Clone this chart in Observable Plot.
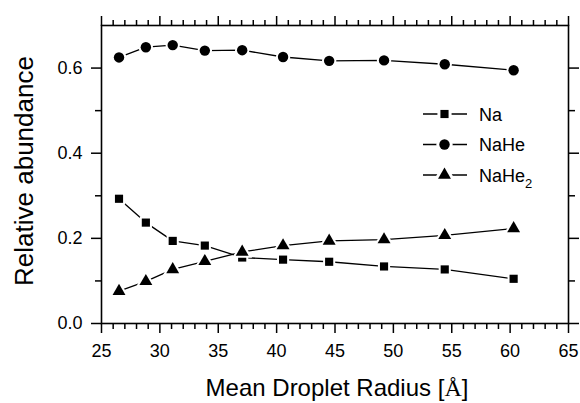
<!DOCTYPE html>
<html><head><meta charset="utf-8">
<script src="https://cdn.jsdelivr.net/npm/d3@7"></script>
<script src="https://cdn.jsdelivr.net/npm/@observablehq/plot@0.6"></script>
<style>
body{margin:0;background:white}
#chart{position:relative;width:580px;height:403px}
</style>
</head><body><div id="chart"></div>
<script>
const radius = [26.5, 28.8, 31.1, 33.85, 37.05, 40.55, 44.5, 49.2, 54.4, 60.3];
const na     = [0.293, 0.237, 0.194, 0.183, 0.155, 0.150, 0.145, 0.134, 0.127, 0.105];
const naHe   = [0.625, 0.649, 0.654, 0.641, 0.642, 0.626, 0.617, 0.618, 0.609, 0.595];
const naHe2  = [0.076, 0.099, 0.127, 0.146, 0.168, 0.183, 0.194, 0.197, 0.207, 0.223];
const seriesNames = ["Na", "NaHe", "NaHe2"];
const xTicks = [25, 30, 35, 40, 45, 50, 55, 60, 65];
const xMinor = d3.range(25, 66, 1).filter(d => d % 5 !== 0);
const yTicks = [0, 0.2, 0.4, 0.6];
const yMinor = [0.1, 0.3, 0.5];
const xLabel = "Mean Droplet Radius [";
const xLabelUnit = "Å";
const yLabel = "Relative abundance";

const values = [na, naHe, naHe2];
const rows = values.flatMap((arr, i) => arr.map((v, j) => ({series: seriesNames[i], x: radius[j], y: v})));

const symbols = {Na: "square", NaHe: "circle", NaHe2: "triangle"};
const sizes = {Na: 4.6, NaHe: 5.2, NaHe2: 4.8};

const dotMarks = seriesNames.map(s => Plot.dot(rows.filter(r => r.series === s), {
  x: "x", y: "y", symbol: () => symbols[s], r: sizes[s], fill: "black",
  stroke: "white", strokeWidth: 4, paintOrder: "stroke"
}));

const chart = Plot.plot({
  width: 580, height: 403,
  marginLeft: 101, marginRight: 12, marginTop: 25, marginBottom: 80,
  x: {domain: [25, 65]},
  y: {domain: [0, 0.7]},
  symbol: {type: "identity"},
  style: {fontFamily: "'Liberation Sans', Arial, sans-serif", fontSize: "18px", color: "black", background: "white"},
  marks: [
    Plot.axisX(xTicks, {anchor: "bottom", tickSize: 10, tickPadding: 11, label: null, strokeWidth: 1.5, fontSize: 18}),
    Plot.axisX(xMinor, {anchor: "bottom", tickSize: 6, text: null, label: null, strokeWidth: 1.5}),
    Plot.axisX(xTicks, {anchor: "top", tickSize: 10, text: null, label: null, strokeWidth: 1.5}),
    Plot.axisX(xMinor, {anchor: "top", tickSize: 6, text: null, label: null, strokeWidth: 1.5}),
    Plot.axisY(yTicks, {anchor: "left", tickSize: 10, tickPadding: 9, tickFormat: d3.format(".1f"), label: null, strokeWidth: 1.5, fontSize: 18}),
    Plot.axisY(yMinor, {anchor: "left", tickSize: 6, text: null, label: null, strokeWidth: 1.5}),
    Plot.axisY(yTicks, {anchor: "right", tickSize: 10, text: null, label: null, strokeWidth: 1.5}),
    Plot.axisY(yMinor, {anchor: "right", tickSize: 6, text: null, label: null, strokeWidth: 1.5}),
    Plot.frame({stroke: "black", strokeWidth: 1.6}),
    Plot.line(rows, {x: "x", y: "y", z: "series", stroke: "black", strokeWidth: 1.3}),
    ...dotMarks
  ]
});
document.getElementById("chart").appendChild(chart);

const svg = d3.select(chart);
// axis titles
const xt = svg.append("text")
  .attr("x", 337).attr("y", 396)
  .attr("text-anchor", "middle")
  .style("font-family", "'Liberation Sans', Arial, sans-serif")
  .style("font-size", "24px").attr("fill", "black");
xt.append("tspan").text(xLabel);
xt.append("tspan").style("font-family", "'Liberation Serif', 'Times New Roman', serif").text(xLabelUnit);
xt.append("tspan").text("]");

svg.append("text")
  .attr("transform", "translate(33,171) rotate(-90)")
  .attr("text-anchor", "middle")
  .style("font-family", "'Liberation Sans', Arial, sans-serif")
  .style("font-size", "26px").attr("fill", "black")
  .text(yLabel);

// legend
const d3sym = {Na: d3.symbolSquare, NaHe: d3.symbolCircle, NaHe2: d3.symbolTriangle};
const leg = svg.append("g").attr("transform", "translate(423,114)");
seriesNames.forEach((s, i) => {
  const g = leg.append("g").attr("transform", `translate(0,${i * 30.5})`);
  g.append("line").attr("x1", 0).attr("x2", 44).attr("y1", 0).attr("y2", 0)
    .attr("stroke", "black").attr("stroke-width", 1.3);
  g.append("path").attr("transform", "translate(21.5,0)")
    .attr("d", d3.symbol(d3sym[s], Math.PI * sizes[s] * sizes[s])())
    .attr("fill", "black").attr("stroke", "white").attr("stroke-width", 6).attr("paint-order", "stroke");
  const t = g.append("text").attr("x", 56).attr("y", 6.5)
    .attr("text-anchor", "start")
    .style("font-family", "'Liberation Sans', Arial, sans-serif")
    .style("font-size", "18px").attr("fill", "black");
  if (s === "NaHe2") {
    t.append("tspan").text("NaHe");
    t.append("tspan").attr("dy", 6).style("font-size", "13px").text("2");
  } else {
    t.text(s);
  }
});
</script>
</body></html>
